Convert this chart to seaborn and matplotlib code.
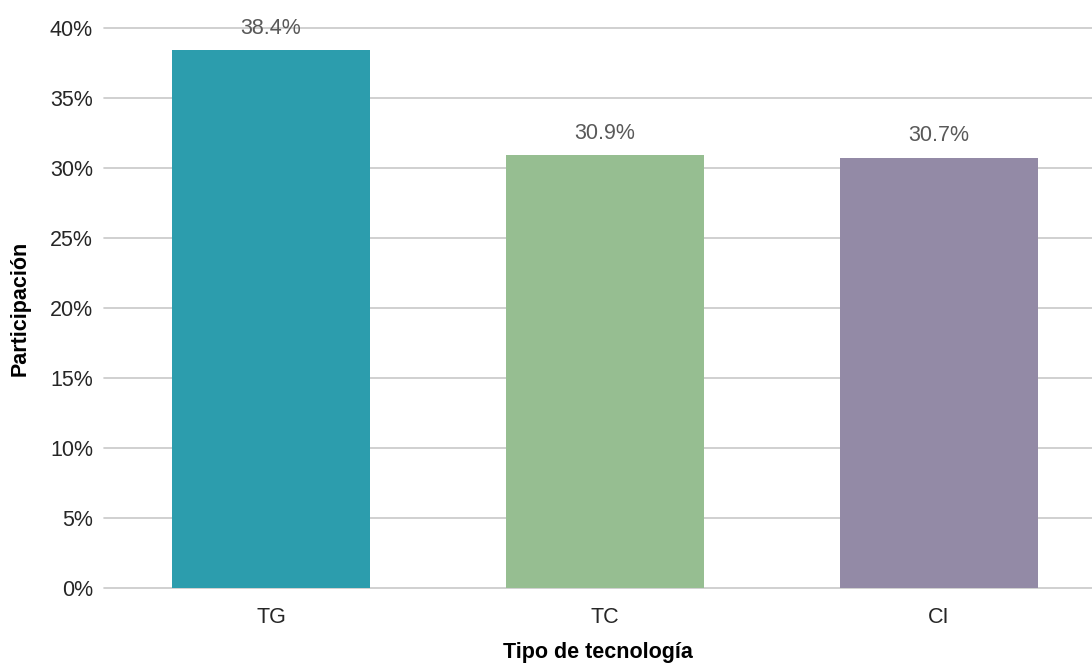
import matplotlib
matplotlib.use("Agg")
import matplotlib.pyplot as plt
import seaborn as sns
import pandas as pd
from matplotlib import font_manager
from matplotlib.ticker import FuncFormatter

categories = ["TG", "TC", "CI"]
values = [38.4, 30.9, 30.7]
colors = ["#2C9DAD", "#96BE91", "#938AA6"]
yticks = [0, 5, 10, 15, 20, 25, 30, 35, 40]

sns.set_theme(style="white")
names = {f.name for f in font_manager.fontManager.ttflist}
fam = ["Liberation Sans Narrow", "DejaVu Sans"] if "Liberation Sans Narrow" in names else ["Liberation Sans", "DejaVu Sans"]
plt.rcParams["font.family"] = fam

df = pd.DataFrame({"cat": categories, "val": values})

fig = plt.figure(figsize=(10.92, 6.68), dpi=100)
ax = fig.add_axes([104/1092, 1-588/668, 1-104/1092, (588-28)/668])
sns.barplot(data=df, x="cat", y="val", hue="cat", palette=colors, width=0.59,
            legend=False, ax=ax, saturation=1, zorder=3, linewidth=0)

ax.set_ylim(0, 40)
ax.set_xlim(-0.5, 2.458)
ax.set_yticks(yticks)
ax.yaxis.set_major_formatter(FuncFormatter(lambda v, p: f"{v:.0f}%"))
ax.grid(axis="y", color="#C8C8C8", linewidth=1.2, zorder=0)
ax.grid(axis="x", visible=False)
for gl in ax.get_ygridlines():
    gl.set_clip_on(False)
for s in ax.spines.values():
    s.set_visible(False)
ax.tick_params(axis="both", length=0, labelsize=15.5, colors="#262626", pad=8)
ax.tick_params(axis="x", pad=14)

for i, v in enumerate(values):
    ax.text(i, v + 0.85, f"{v:.1f}%", ha="center", va="bottom", fontsize=15.5,
            color="#595959", clip_on=False)

ax.set_xlabel("Tipo de tecnología", fontsize=15.5, fontweight="bold", color="#000000", labelpad=10)
ax.set_ylabel("Participación", fontsize=15.5, fontweight="bold", color="#000000", labelpad=14)

fig.savefig("out.png", dpi=100)
